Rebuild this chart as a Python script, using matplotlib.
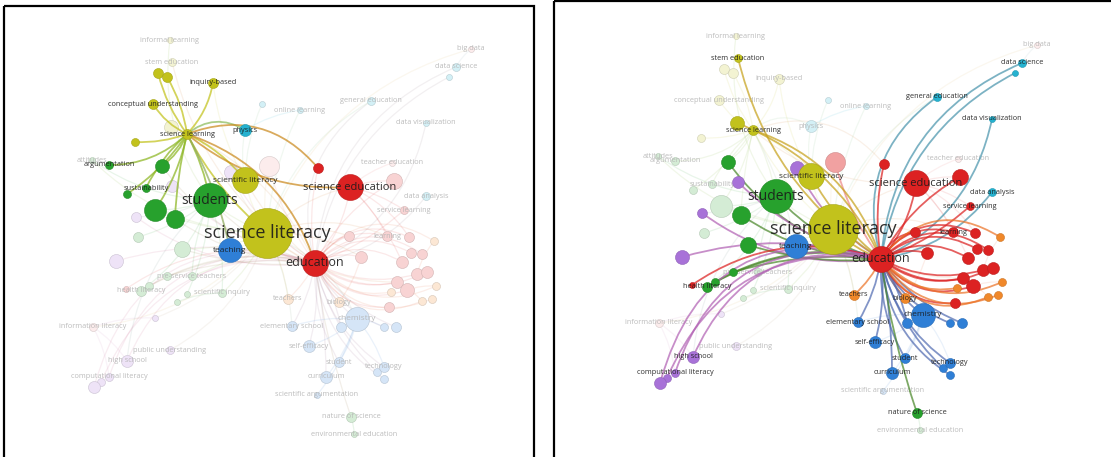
import matplotlib
matplotlib.use('Agg')
import matplotlib.pyplot as plt
from matplotlib.path import Path
from matplotlib.patches import PathPatch, Rectangle
from matplotlib.colors import to_rgb

# network layout (same map in both panels), nodes named; names with "_" have no label
NODE_NAMES = [
    'science literacy', 'students', 'education', 'science education', 'teaching',
    'scientific literacy', '_g1', '_g2', '_g3', 'argumentation', '_g5', 'sustainability',
    'science learning', 'conceptual understanding', '_y1', '_y2', 'inquiry-based', '_y3',
    'physics', '_r1', 'stem education', '_y4', 'data science', '_c1', 'big data',
    'general education', 'data visualization', '_k1', '_p1', '_p2', '_r2', 'data analysis',
    'service learning', '_p3', '_g6', '_g7', '_p5', '_g8', 'health literacy', '_r3', '_g9',
    'teachers', 'biology', 'chemistry', '_b1', '_b2', '_b3', 'elementary school',
    'self-efficacy', 'student', 'curriculum', 'technology', '_b4', '_b5',
    'nature of science', 'environmental education', 'scientific argumentation',
    'high school', 'computational literacy', '_p4', '_p6',
    'learning', '_r4', '_r5', '_r6', '_r7', '_r8', '_r9', '_r10', '_r11', '_r12', '_r13', '_r14',
    '_o1', '_o2', '_o3', '_o4', '_o5',
    'informal learning', 'online learning', '_c2', 'teacher education', 'attitudes',
    'pre-service teachers', 'scientific inquiry', '_g10', '_g11', 'information literacy',
    'public understanding', '_x1',
]
NODE_X = [
    267, 210, 315, 350, 230,
    245, 155, 175, 162, 109, 127, 146,
    187, 153, 158, 167, 213, 135,
    245, 318, 172, 171, 456, 449, 471,
    371, 426, 269, 231, 172, 394, 426,
    404, 136, 138, 182, 116, 167, 141, 126, 149,
    288, 339, 357, 341, 384, 396, 292,
    309, 339, 326, 384, 377, 384,
    351, 354, 317,
    127, 109, 94, 101,
    387, 349, 409, 361, 402, 411, 422, 417, 427, 397, 407, 389,
    434, 436, 432, 422, 391,
    170, 300, 262, 392, 92,
    192, 222, 187, 177, 93,
    170, 155,
]
NODE_Y = [
    233, 200, 263, 187, 250,
    180, 210, 219, 166, 165, 194, 188,
    134, 104, 73, 77, 83, 142,
    130, 168, 62, 127, 67, 77, 49,
    101, 123, 166, 172, 186, 181, 196,
    210, 217, 237, 249, 261, 276, 291, 289, 286,
    299, 302, 319, 327, 327, 327, 326,
    346, 362, 377, 367, 372, 379,
    417, 434, 395,
    361, 377, 387, 382,
    236, 236, 237, 257, 262, 253, 254, 274, 272, 282, 290, 307,
    241, 286, 299, 301, 292,
    40, 110, 104, 163, 160,
    276, 293, 294, 302, 327,
    350, 318,
]
NODE_R = [
    25, 17, 13, 13, 12,
    13, 11, 9, 7, 4, 4, 4,
    5, 5, 5, 5, 5, 4,
    6, 5, 4, 7, 4, 3, 3,
    4, 3, 10, 7, 6, 8, 4,
    4, 5, 5, 8, 7, 4, 5, 3, 4,
    5, 5, 12, 5, 4, 5, 5,
    6, 5, 6, 5, 4, 4,
    5, 3, 3,
    6, 4, 6, 4,
    5, 5, 5, 6, 6, 5, 5, 6, 6, 6, 7, 5,
    4, 4, 4, 4, 4,
    3, 3, 3, 3, 3,
    4, 4, 3, 3, 4,
    4, 3,
]
NODE_CLUSTER = [
    'Y', 'G', 'R', 'R', 'B',
    'Y', 'G', 'G', 'G', 'G', 'G', 'G',
    'Y', 'Y', 'Y', 'Y', 'Y', 'Y',
    'C', 'R', 'Y', 'Y', 'C', 'C', 'K',
    'C', 'C', 'K', 'P', 'P', 'R', 'C',
    'R', 'P', 'G', 'G', 'P', 'G', 'G', 'R', 'G',
    'O', 'O', 'B', 'B', 'B', 'B', 'B',
    'B', 'B', 'B', 'B', 'B', 'B',
    'G', 'G', 'B',
    'P', 'P', 'P', 'P',
    'R', 'R', 'R', 'R', 'R', 'R', 'R', 'R', 'R', 'R', 'R', 'R',
    'O', 'O', 'O', 'O', 'O',
    'Y', 'C', 'C', 'K', 'G',
    'G', 'G', 'G', 'G', 'K',
    'P', 'P',
]
LABEL_SIZE = {'science literacy': 13, 'students': 10, 'education': 9, 'science education': 8,
              'teaching': 6, 'scientific literacy': 6, 'chemistry': 6}

# links: (node a, node b, bend)
LINKS = [
    # science learning
    ('science learning', 'conceptual understanding', 0.15), ('science learning', '_y1', 0.1),
    ('science learning', '_y2', -0.1), ('science learning', 'inquiry-based', -0.15),
    ('science learning', '_y3', 0.1), ('science learning', 'students', 0.08),
    ('science learning', 'science literacy', -0.1), ('science learning', 'scientific literacy', 0.12),
    ('science learning', '_g1', 0.1), ('science learning', '_g2', -0.05),
    ('science learning', '_g3', 0.15), ('science learning', 'argumentation', 0.2),
    ('science learning', '_g5', 0.1), ('science learning', 'sustainability', -0.1),
    ('science learning', 'physics', 0.35), ('science learning', '_r1', 0.35),
    ('science learning', 'science education', -0.2), ('science learning', 'teaching', 0.08),
    # education
    ('education', 'science literacy', 0.1), ('education', 'students', 0.15),
    ('education', 'teaching', -0.1), ('education', 'scientific literacy', 0.1),
    ('education', 'science education', -0.15), ('education', '_k1', 0.1),
    ('education', '_p1', 0.15), ('education', '_g3', 0.2), ('education', '_p2', 0.15),
    ('education', '_r2', 0.15), ('education', 'data analysis', -0.2),
    ('education', 'service learning', -0.1), ('education', '_g2', 0.15),
    ('education', '_p3', 0.2), ('education', '_g7', 0.1), ('education', '_p5', -0.15),
    ('education', '_g8', -0.1), ('education', 'health literacy', -0.2),
    ('education', '_r3', -0.25), ('education', '_g9', -0.2), ('education', 'teachers', 0.1),
    ('education', 'biology', -0.1), ('education', 'chemistry', -0.15),
    ('education', '_b1', 0.1), ('education', '_b2', -0.2), ('education', '_b3', -0.15),
    ('education', 'elementary school', 0.1), ('education', 'self-efficacy', 0.1),
    ('education', 'student', -0.15), ('education', 'curriculum', 0.05),
    ('education', 'technology', -0.2), ('education', '_b4', -0.15), ('education', '_b5', -0.25),
    ('education', 'nature of science', -0.05), ('education', 'high school', -0.4),
    ('education', 'computational literacy', -0.45), ('education', '_p4', -0.5),
    ('education', '_p6', -0.38), ('education', 'stem education', 0.2),
    ('education', 'science learning', -0.25), ('education', '_y4', -0.2),
    ('education', 'data science', 0.3), ('education', '_c1', 0.25),
    ('education', 'general education', 0.35), ('education', 'data visualization', -0.25),
    ('education', '_r1', 0.1), ('education', 'learning', 0.35), ('education', '_r4', 0.3),
    ('education', '_r5', 0.4), ('education', '_r6', 0.2), ('education', '_r7', 0.3),
    ('education', '_r8', 0.35), ('education', '_r9', 0.4), ('education', '_r10', -0.2),
    ('education', '_r11', -0.3), ('education', '_r12', -0.25), ('education', '_r13', -0.35),
    ('education', '_r14', -0.35), ('education', '_o1', 0.45), ('education', '_o2', -0.35),
    ('education', '_o3', -0.4), ('education', '_o4', -0.45), ('education', '_o5', -0.3),
    # other links (greyed out in both views)
    ('science literacy', 'students', 0.1), ('science literacy', 'teaching', 0.1),
    ('science literacy', 'scientific literacy', 0.1), ('science literacy', 'science education', 0.15),
    ('science literacy', '_k1', 0.1), ('science literacy', '_p1', 0.1),
    ('science literacy', '_g1', 0.1), ('science literacy', '_g7', 0.1),
    ('science literacy', 'chemistry', 0.2), ('science literacy', 'teachers', 0.1),
    ('science literacy', 'pre-service teachers', 0.1), ('science literacy', 'scientific inquiry', 0.1),
    ('science literacy', 'information literacy', 0.2), ('science literacy', 'attitudes', 0.2),
    ('science literacy', '_r4', 0.15), ('science literacy', '_r6', 0.15),
    ('science literacy', 'general education', 0.2), ('science literacy', 'online learning', 0.1),
    ('science literacy', 'big data', 0.25), ('science literacy', 'public understanding', 0.2),
    ('science literacy', '_x1', 0.15), ('science literacy', 'elementary school', 0.1),
    ('science literacy', 'learning', 0.2), ('science literacy', '_r12', -0.2),
    ('students', '_g1', 0.1), ('students', '_g6', 0.1), ('students', 'health literacy', 0.15),
    ('students', 'scientific inquiry', 0.1), ('students', 'pre-service teachers', -0.1),
    ('students', 'attitudes', 0.15), ('students', '_p3', 0.1), ('students', 'informal learning', 0.2),
    ('students', 'high school', -0.2), ('students', '_g10', 0.1),
    ('science education', '_r2', 0.1), ('science education', 'learning', 0.1),
    ('science education', '_r5', 0.15), ('science education', 'teacher education', 0.1),
    ('science education', 'service learning', 0.1), ('science education', '_r7', 0.1),
    ('chemistry', '_b1', 0.1), ('chemistry', '_b2', 0.1), ('chemistry', 'self-efficacy', 0.1),
    ('chemistry', 'curriculum', 0.1), ('chemistry', 'student', 0.1), ('chemistry', 'technology', 0.1),
    ('chemistry', 'scientific argumentation', 0.1), ('chemistry', 'elementary school', -0.1),
    ('scientific literacy', 'physics', 0.1), ('scientific literacy', 'inquiry-based', 0.1),
    ('scientific literacy', '_c2', 0.1), ('physics', 'online learning', 0.1),
    ('data science', 'big data', 0.1), ('information literacy', 'computational literacy', 0.1),
    ('information literacy', 'high school', 0.1), ('information literacy', '_x1', 0.1),
    ('_r13', '_o2', 0.1), ('_r10', '_o1', 0.1), ('_r12', '_o4', 0.1), ('_r6', 'biology', 0.1),
    ('nature of science', 'environmental education', 0.1), ('_g11', 'scientific inquiry', 0.1),
]

CLUSTER_COLORS = {'R': '#dc2222', 'G': '#27a12d', 'B': '#2f7fd6', 'Y': '#c2c21c',
                  'P': '#a872d8', 'C': '#25b2d0', 'O': '#f0882a', 'K': '#f1a1a1'}


def mix(c1, c2, t):
    a, b = to_rgb(c1), to_rgb(c2)
    return tuple(a[i] * (1 - t) + b[i] * t for i in range(3))


def curve(ax, x1, y1, x2, y2, bend, color, lw, alpha, z):
    dx, dy = x2 - x1, y2 - y1
    cx = (x1 + x2) / 2 + bend * dy
    cy = (y1 + y2) / 2 - bend * dx
    p = Path([(x1, y1), (cx, cy), (x2, y2)], [Path.MOVETO, Path.CURVE3, Path.CURVE3])
    ax.add_patch(PathPatch(p, fc='none', ec=color, lw=lw, alpha=alpha, zorder=z,
                           capstyle='round'))


def draw_panel(ax, dx, dy, focus, t):
    idx = {n: i for i, n in enumerate(NODE_NAMES)}
    lit = {focus}
    for a, b, _ in LINKS:
        if a == focus:
            lit.add(b)
        if b == focus:
            lit.add(a)
    fcol = CLUSTER_COLORS[NODE_CLUSTER[idx[focus]]]

    for a, b, bend in LINKS:
        ia, ib = idx[a], idx[b]
        x1, y1 = NODE_X[ia] + dx, NODE_Y[ia] + dy
        x2, y2 = NODE_X[ib] + dx, NODE_Y[ib] + dy
        ca = CLUSTER_COLORS[NODE_CLUSTER[ia]]
        cb = CLUSTER_COLORS[NODE_CLUSTER[ib]]
        if focus in (a, b):
            other = cb if a == focus else ca
            curve(ax, x1, y1, x2, y2, bend, mix(fcol, other, t), 1.3, 0.72, 3)
        else:
            curve(ax, x1, y1, x2, y2, bend, mix(ca, cb, 0.5), 0.9, 0.1, 1)

    order = sorted(range(len(NODE_NAMES)), key=lambda i: NODE_R[i])
    for i in order:
        name = NODE_NAMES[i]
        c = CLUSTER_COLORS[NODE_CLUSTER[i]]
        on = name in lit
        col = c if on else mix(c, 'white', 0.8)
        s = (2 * NODE_R[i] * 0.72) ** 2
        ax.scatter(NODE_X[i] + dx, NODE_Y[i] + dy, s=s, color=col,
                   edgecolors=mix(col, 'black', 0.15), linewidths=0.4,
                   zorder=5 if on else 2)

    for i, name in enumerate(NODE_NAMES):
        if name.startswith('_'):
            continue
        on = name in lit
        ax.text(NODE_X[i] + dx, NODE_Y[i] + dy, name, ha='center', va='center',
                fontsize=LABEL_SIZE.get(name, 5.3), family='Open Sans',
                color='#1a1a1a' if on else '#b5b5b5', alpha=0.9,
                zorder=6 if on else 2.5)


fig = plt.figure(figsize=(11.11, 4.57), dpi=100)
ax = fig.add_axes([0, 0, 1, 1])
ax.set_xlim(0, 1111)
ax.set_ylim(457, 0)
ax.axis('off')

draw_panel(ax, 0, 0, 'science learning', 0.35)
draw_panel(ax, 566, -4, 'education', 0.8)

ax.add_patch(Rectangle((4, 6), 530, 480, fc='none', ec='black', lw=1.6, zorder=10))
ax.add_patch(Rectangle((554, 1), 600, 480, fc='none', ec='black', lw=1.6, zorder=10))

fig.savefig('out.png', dpi=100)
